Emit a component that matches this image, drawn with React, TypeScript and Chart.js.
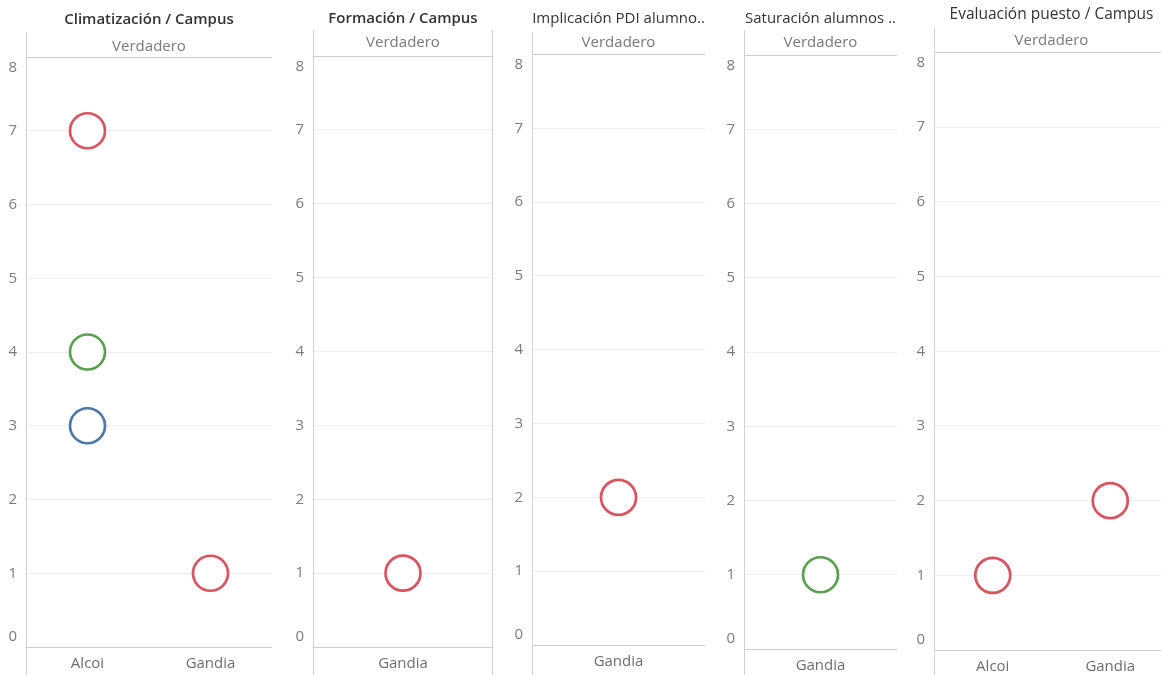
import React, { useEffect, useRef } from 'react';
import { Chart, registerables } from 'chart.js';

Chart.register(...registerables);

// ---------- data ----------
const yMin = 0;
const yMax = 8;
const yStep = 1;
const headerLabel = 'Verdadero';

const climTitle = 'Climatización / Campus';
const climCampus = ['Alcoi', 'Gandia'];
const climRojo = [7, 1];
const climVerde = [4, null];
const climAzul = [3, null];

const formTitle = 'Formación / Campus';
const formCampus = ['Gandia'];
const formRojo = [1];

const implTitle = 'Implicación PDI alumno..';
const implCampus = ['Gandia'];
const implRojo = [2];

const satTitle = 'Saturación alumnos ..';
const satCampus = ['Gandia'];
const satVerde = [1];

const evalTitle = 'Evaluación puesto / Campus';
const evalCampus = ['Alcoi', 'Gandia'];
const evalRojo = [1, 2];

// ---------- styles ----------
const FONT = '"Open Sans", "Noto Sans", sans-serif';
const RED = '#db535f';
const GREEN = '#59a14f';
const BLUE = '#4e79a7';
const H = 675;

type Layout = {
  left: number; width: number; plotLeft: number; plotRight: number;
  plotTop: number; plotBottom: number; titleC: number; headC: number;
  lineTop: number; rightBorder?: boolean; titleWeight: number; titleSize: number;
};

type Series = { name: string; values: (number | null)[]; color: string };

function Panel({ layout, title, labels, series }: { layout: Layout; title: string; labels: string[]; series: Series[] }) {
  const ref = useRef<HTMLCanvasElement>(null);
  useEffect(() => {
    if (!ref.current) return;
    const L = layout;
    const lh = 16;
    const t1 = L.titleC - lh / 2;
    const b1 = 5;
    const t2 = L.headC - L.titleC - lh - b1;
    const b2 = L.plotTop - L.headC - lh / 2;

    const frame = {
      id: 'frame',
      beforeDatasetsDraw(chart: any) {
        const { ctx, chartArea } = chart;
        ctx.save();
        ctx.strokeStyle = '#d2d2d2';
        ctx.lineWidth = 1;
        ctx.beginPath();
        const x = Math.round(chartArea.left) + 0.5;
        ctx.moveTo(x, L.lineTop);
        ctx.lineTo(x, H);
        if (L.rightBorder) {
          const x2 = Math.round(chartArea.right) - 0.5;
          ctx.moveTo(x2, L.lineTop);
          ctx.lineTo(x2, H);
        }
        ctx.stroke();
        ctx.restore();
      },
    };

    const chart = new Chart(ref.current, {
      type: 'line',
      data: {
        labels,
        datasets: series.map((s) => ({
          label: s.name,
          data: s.values,
          showLine: false,
          pointStyle: 'circle',
          pointRadius: 17.5,
          pointHoverRadius: 17.5,
          pointBorderWidth: 2.7,
          pointHoverBorderWidth: 2.7,
          borderColor: s.color,
          pointBorderColor: s.color,
          pointBackgroundColor: '#ffffff',
          backgroundColor: '#ffffff',
          clip: false as any,
        })),
      },
      options: {
        responsive: false,
        animation: false,
        events: [],
        layout: { autoPadding: false, padding: { left: 0, top: 0, bottom: 0, right: L.width - L.plotRight } },
        plugins: {
          legend: { display: false },
          tooltip: { enabled: false },
          title: {
            display: true, text: title, fullSize: false, color: '#333333',
            font: { family: FONT, size: L.titleSize, weight: L.titleWeight as any, lineHeight: '16px' },
            padding: { top: t1, bottom: b1 },
          },
          subtitle: {
            display: true, text: headerLabel, fullSize: false, color: '#7a7a7a',
            font: { family: FONT, size: 15, lineHeight: '16px' },
            padding: { top: t2, bottom: b2 },
          },
        },
        scales: {
          x: {
            type: 'category',
            offset: true,
            grid: { display: false, drawTicks: false },
            border: { display: false },
            ticks: {
              color: '#6e6e6e', padding: 8, maxRotation: 0, autoSkip: false,
              font: { family: FONT, size: 15, lineHeight: '17px' },
            },
            afterFit: (s: any) => { s.height = H - L.plotBottom; s.paddingLeft = 0; s.paddingRight = 0; },
          },
          y: {
            min: yMin,
            max: yMax,
            grid: {
              drawTicks: false,
              lineWidth: 1,
              color: (c: any) => (c.tick && (c.tick.value === yMax || c.tick.value === yMin) ? '#cccccc' : '#eeeeee'),
            },
            border: { display: false },
            ticks: {
              stepSize: yStep,
              autoSkip: false,
              padding: 9,
              color: '#7c7c7c',
              font: (c: any) => {
                const v = c.tick ? c.tick.value : null;
                const edge = v === yMin || v === yMax;
                return { family: FONT, size: 15, lineHeight: edge ? '21px' : '17px' };
              },
              callback: (v: any) => (v === yMax ? ['', String(v)] : v === yMin ? [String(v), ''] : String(v)),
            },
            afterFit: (s: any) => { s.width = L.plotLeft; s.paddingTop = 0; s.paddingBottom = 0; },
          },
        },
      },
      plugins: [frame],
    } as any);
    return () => chart.destroy();
  }, []);
  return (
    <canvas
      ref={ref}
      width={layout.width}
      height={H}
      style={{ position: 'absolute', left: layout.left, top: 0, width: layout.width, height: H }}
    />
  );
}

const L1: Layout = { left: 0, width: 280, plotLeft: 26, plotRight: 272, plotTop: 57, plotBottom: 647, titleC: 19.5, headC: 46.5, lineTop: 32, titleWeight: 600, titleSize: 15 };
const L2: Layout = { left: 280, width: 216, plotLeft: 33, plotRight: 213, plotTop: 56, plotBottom: 647, titleC: 18.5, headC: 43, lineTop: 30, rightBorder: true, titleWeight: 600, titleSize: 15 };
const L3: Layout = { left: 496, width: 216, plotLeft: 36, plotRight: 209, plotTop: 54.5, plotBottom: 645, titleC: 18.5, headC: 43, lineTop: 32, titleWeight: 500, titleSize: 15 };
const L4: Layout = { left: 712, width: 195, plotLeft: 32, plotRight: 185, plotTop: 55, plotBottom: 649, titleC: 18.5, headC: 43, lineTop: 30, titleWeight: 500, titleSize: 15 };
const L5: Layout = { left: 907, width: 262, plotLeft: 27, plotRight: 262, plotTop: 52.5, plotBottom: 650, titleC: 14.5, headC: 40.5, lineTop: 28, titleWeight: 500, titleSize: 15.5 };

export default function App() {
  return (
    <div style={{ position: 'fixed', left: 0, top: 0, width: 1161, height: H, overflow: 'hidden', background: '#ffffff' }}>
      <Panel layout={L1} title={climTitle} labels={climCampus} series={[
        { name: 'Rojo', values: climRojo, color: RED },
        { name: 'Verde', values: climVerde, color: GREEN },
        { name: 'Azul', values: climAzul, color: BLUE },
      ]} />
      <Panel layout={L2} title={formTitle} labels={formCampus} series={[{ name: 'Rojo', values: formRojo, color: RED }]} />
      <Panel layout={L3} title={implTitle} labels={implCampus} series={[{ name: 'Rojo', values: implRojo, color: RED }]} />
      <Panel layout={L4} title={satTitle} labels={satCampus} series={[{ name: 'Verde', values: satVerde, color: GREEN }]} />
      <Panel layout={L5} title={evalTitle} labels={evalCampus} series={[{ name: 'Rojo', values: evalRojo, color: RED }]} />
    </div>
  );
}
